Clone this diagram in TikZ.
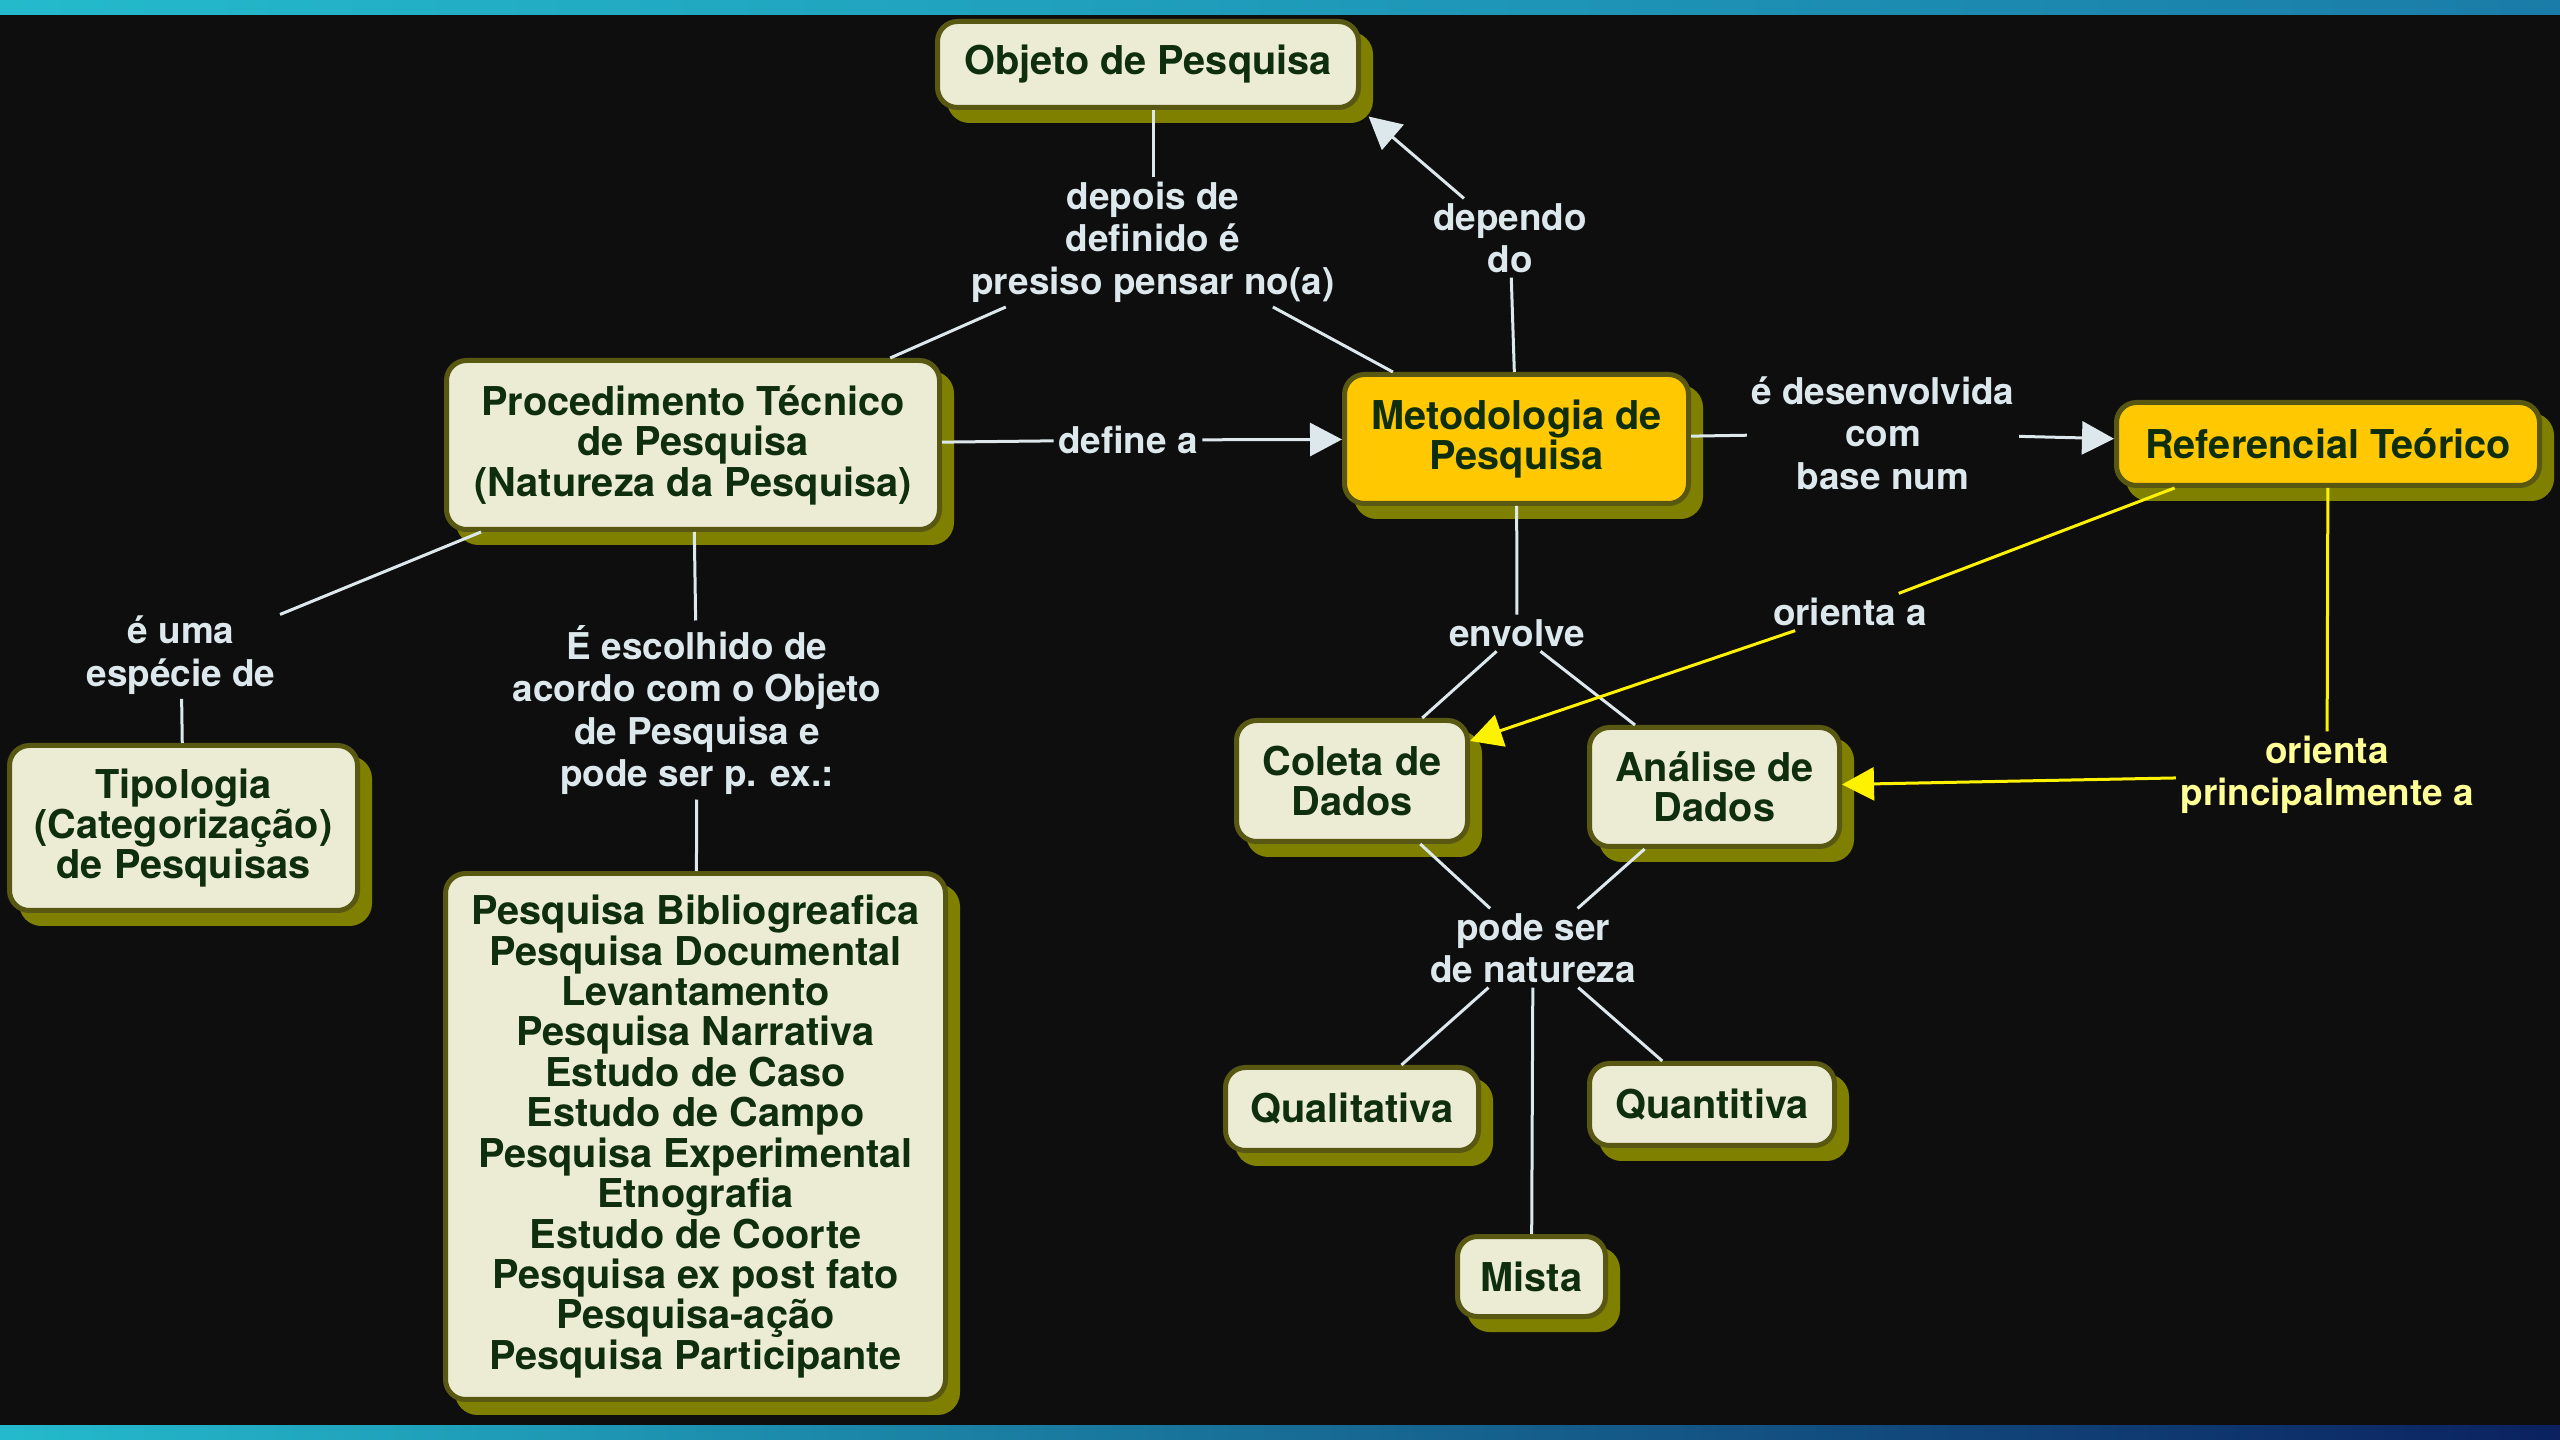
\documentclass[tikz,border=0pt]{standalone}
\usepackage{fontspec}
\setmainfont{TeX Gyre Heros}
\usetikzlibrary{arrows.meta,shadows}
\definecolor{bgc}{RGB}{14,14,14}
\definecolor{creamc}{RGB}{236,235,211}
\definecolor{borderc}{RGB}{88,88,18}
\definecolor{shadowc}{RGB}{128,128,0}
\definecolor{textc}{RGB}{14,46,14}
\definecolor{goldc}{RGB}{255,200,0}
\definecolor{lblc}{RGB}{220,232,236}
\definecolor{yelc}{RGB}{255,242,0}
\definecolor{ylblc}{RGB}{255,255,150}
\definecolor{barA}{RGB}{36,186,204}
\definecolor{barB}{RGB}{26,124,168}
\definecolor{barC}{RGB}{11,33,96}
\newcommand{\cfont}{\bfseries\fontsize{11.3}{11.5}\selectfont}
\newcommand{\lfont}{\bfseries\fontsize{10.5}{12.1}\selectfont}
\begin{document}
\begin{tikzpicture}[x=0.1mm,y=-0.1mm,
  concept/.style={rounded corners=2mm, draw=borderc, line width=0.5mm, fill=creamc,
    text=textc, font=\cfont, align=center, inner sep=0pt,
    general shadow={fill=shadowc, draw=shadowc, shadow xshift=1.2mm, shadow yshift=-1.3mm}},
  goldnode/.style={concept, fill=goldc},
  lbl/.style={text=lblc, font=\lfont, align=center, inner sep=0.4mm},
  ylbl/.style={lbl, text=ylblc},
  link/.style={draw=lblc, line width=0.3mm},
  ylink/.style={draw=yelc, line width=0.3mm},
  arr/.style={-{Triangle[length=3.2mm,width=3.3mm]}},
]
\useasboundingbox (0,0) rectangle (2560,1440);
\fill[bgc] (0,0) rectangle (2560,1440);
\shade[left color=barA, right color=barB] (0,0) rectangle (2560,15);
\shade[left color=barA, right color=barC] (0,1425) rectangle (2560,1440);

% concepts
\node[concept, minimum width=42.1mm, minimum height=8.6mm] (objeto) at (1148,64.5) {Objeto de Pesquisa};
\node[concept, minimum width=49.3mm, minimum height=16.9mm] (proced) at (693,445) {Procedimento Técnico\\de Pesquisa\\(Natureza da Pesquisa)};
\node[goldnode, minimum width=34.4mm, minimum height=12.9mm] (metod) at (1516.5,439) {Metodologia de\\Pesquisa};
\node[goldnode, minimum width=42.3mm, minimum height=8.3mm] (refer) at (2328,444) {Referencial Teórico};
\node[concept, minimum width=34.8mm, minimum height=16.5mm] (tipol) at (183.5,828) {Tipologia\\(Categorização)\\de Pesquisas};
\node[concept, minimum width=50.0mm, minimum height=52.6mm] (lista) at (695.5,1136.5) {Pesquisa Bibliogreafica\\Pesquisa Documental\\Levantamento\\Pesquisa Narrativa\\Estudo de Caso\\Estudo de Campo\\Pesquisa Experimental\\Etnografia\\Estudo de Coorte\\Pesquisa ex post fato\\Pesquisa-ação\\Pesquisa Participante};
\node[concept, minimum width=23.1mm, minimum height=12.1mm] (coleta) at (1352,781) {Coleta de\\Dados};
\node[concept, minimum width=25.0mm, minimum height=11.9mm] (analise) at (1714.5,787) {Análise de\\Dados};
\node[concept, minimum width=25.3mm, minimum height=8.3mm] (qualit) at (1352,1109) {Qualitativa};
\node[concept, minimum width=24.5mm, minimum height=8.2mm] (quant) at (1712,1104.5) {Quantitiva};
\node[concept, minimum width=14.8mm, minimum height=8.0mm] (mista) at (1531.5,1276.5) {Mista};

% labels
\node[lbl] (l1) at (1153,242) {depois de\\definido é\\presiso pensar no(a)};
\node[lbl] (l2) at (1510,238) {dependo\\do};
\node[lbl] (l3) at (1128,440) {define a};
\node[lbl] (l4) at (1883,433) {é desenvolvida\\com\\base num};
\node[lbl] (l5) at (181,655) {é uma\\espécie de};
\node[lbl] (l6) at (697,710) {É escolhido de\\acordo com o Objeto\\de Pesquisa e\\pode ser p. ex.:};
\node[lbl] (l7) at (1517,633) {envolve};
\node[lbl] (l8) at (1850,612) {orienta a};
\node[ylbl] (l9) at (2327,775) {orienta\\principalmente a};
\node[lbl] (l10) at (1533,948) {pode ser\\de natureza};

% connectors
\draw[link] (l1.north |- objeto.south) -- (l1.north);
\draw[link] (proced) -- (l1);
\draw[link] (l1) -- (metod);
\draw[link] (metod) -- (l2);
\draw[link, arr, shorten >=1mm] (l2) -- (objeto.south east);
\draw[link] (proced) -- (l3);
\draw[link, arr] (l3) -- (metod);
\draw[link] (metod) -- (l4);
\draw[link, arr] (l4) -- (refer);
\draw[link] (proced) -- (l5);
\draw[link] (l5) -- (tipol);
\draw[link] (proced) -- (l6);
\draw[link] (l6) -- (lista);
\draw[link] (metod) -- (l7);
\draw[link] (l7) -- (coleta);
\draw[link] (l7) -- (analise);
\draw[ylink] (refer.196) -- (l8);
\draw[ylink, arr] (l8) -- (coleta);
\draw[ylink] (refer) -- (l9);
\draw[ylink, arr] (l9) -- (analise);
\draw[link] (coleta) -- (l10);
\draw[link] (analise) -- (l10);
\draw[link] (l10) -- (qualit);
\draw[link] (l10) -- (quant);
\draw[link] (l10) -- (mista);
\end{tikzpicture}
\end{document}
